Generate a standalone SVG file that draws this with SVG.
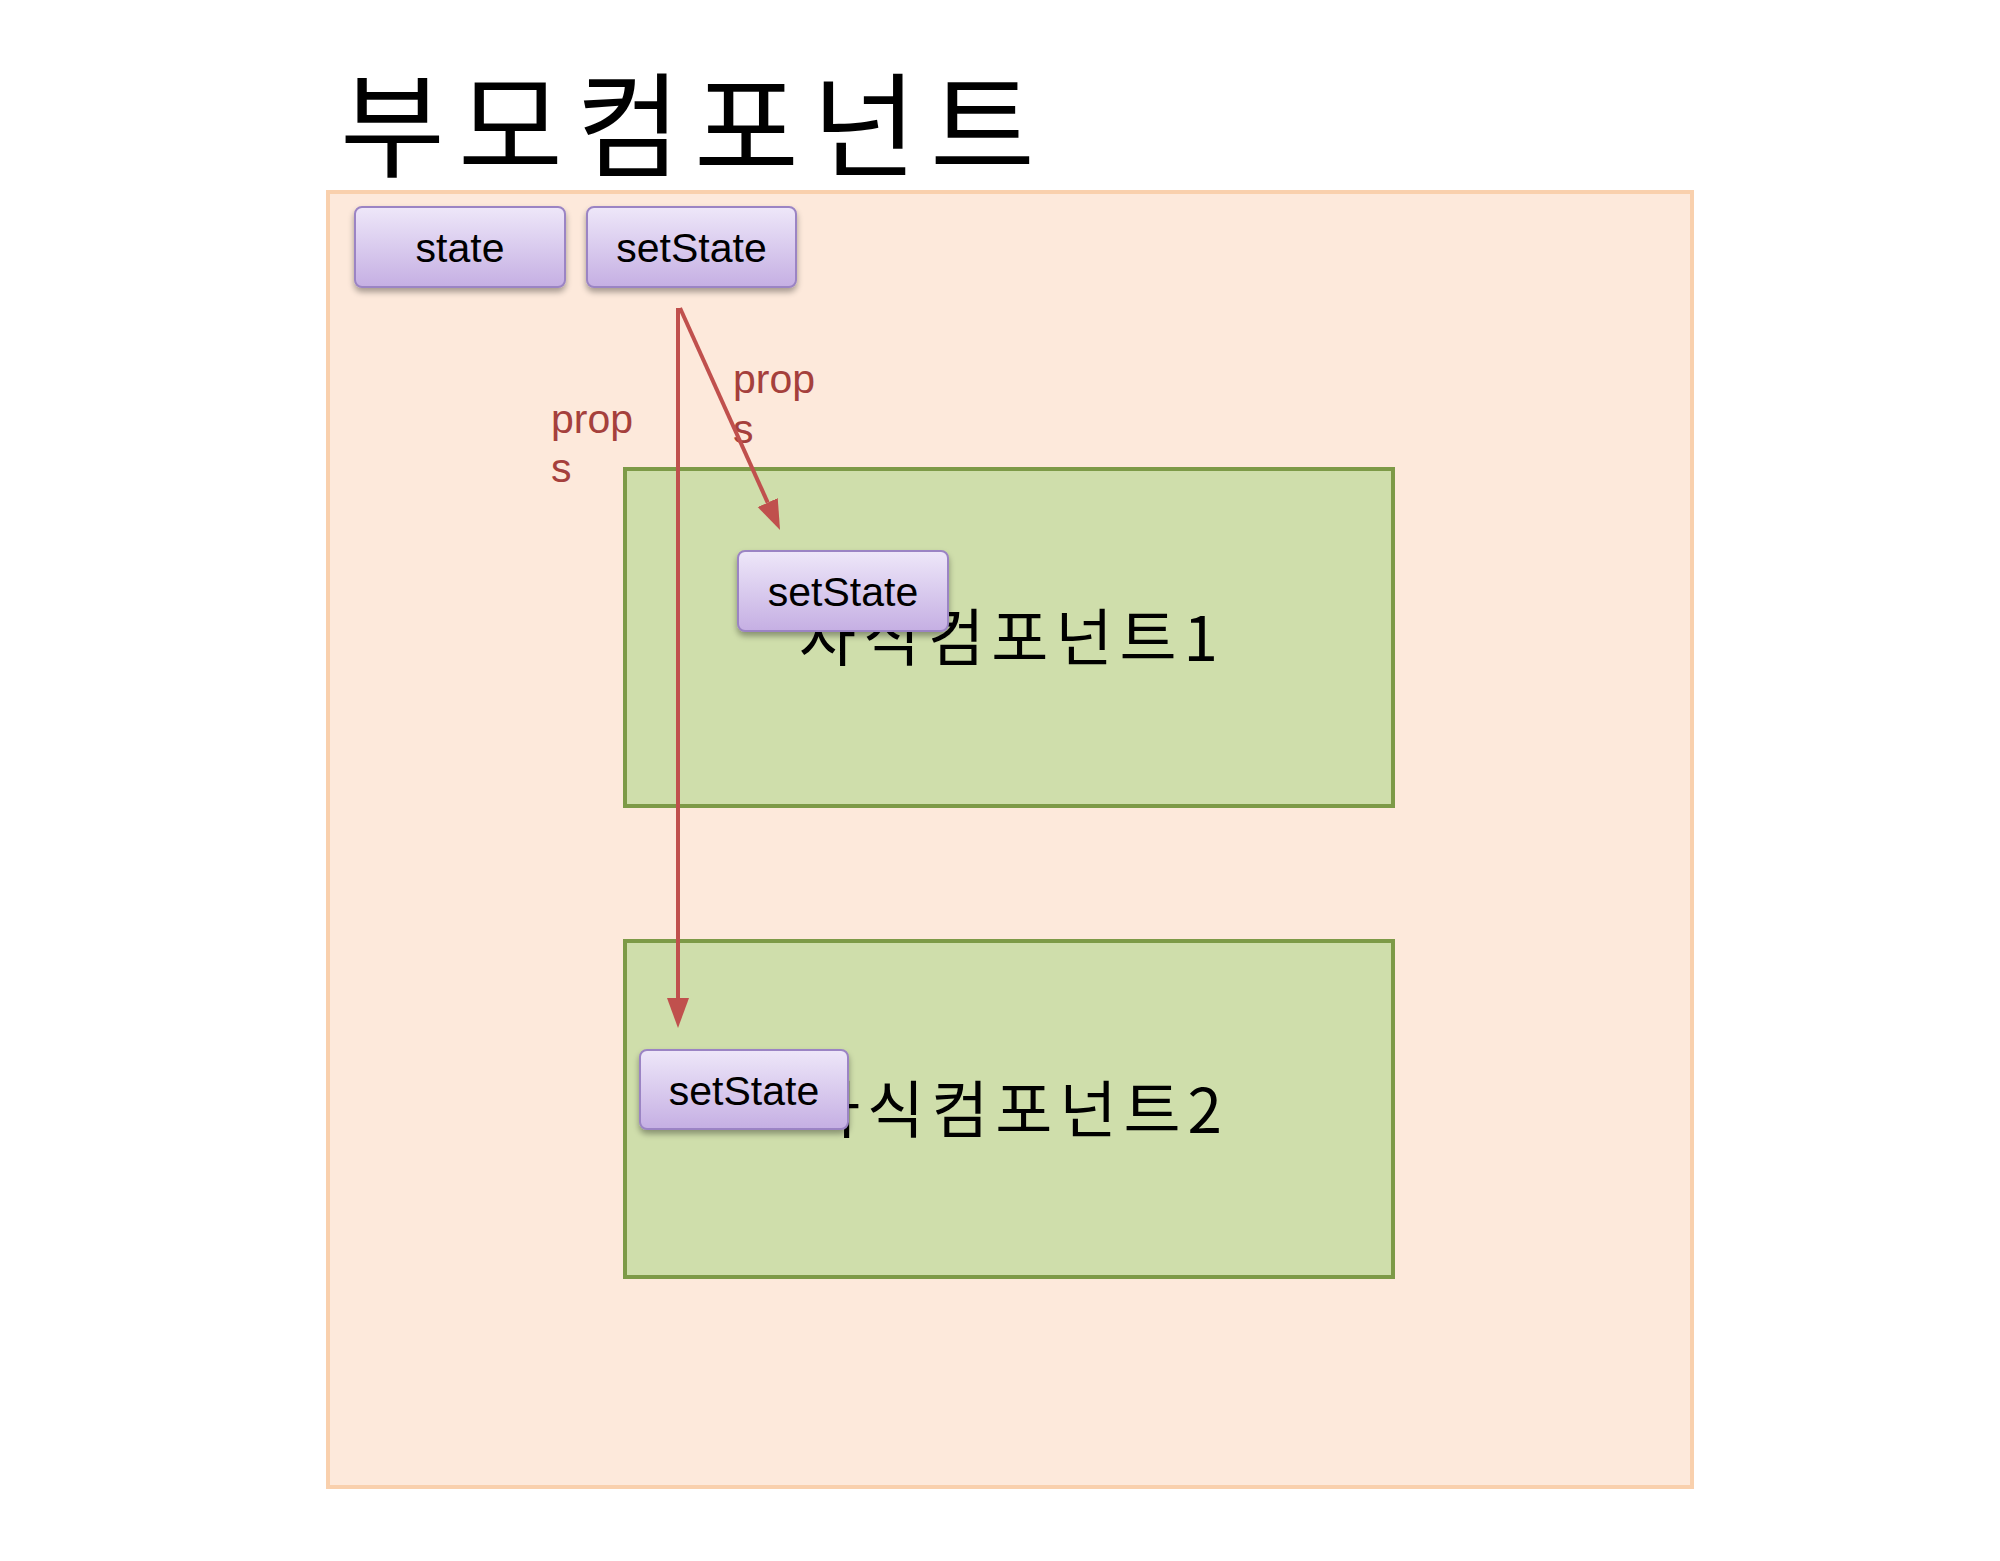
<svg xmlns="http://www.w3.org/2000/svg" width="2000" height="1561" viewBox="0 0 2000 1561">
  <style>
    .btn rect { fill: url(#btnGrad); stroke: #9b84c4; stroke-width: 2; filter: url(#shadow); }
    .btn text { font-family: "Liberation Sans", Arial, sans-serif; font-size: 41px; fill: #000; text-anchor: middle; }
    .child { fill: #cfdeab; stroke: #7d9a47; stroke-width: 4; }
    .child-label { font-family: "Noto Sans CJK KR", "Liberation Sans", sans-serif; font-size: 62px; fill: #000; }
    .lbl { font-family: "Liberation Sans", Arial, sans-serif; font-size: 41px; fill: #a5403c; }
    .conn { stroke: #c0504d; stroke-width: 4; fill: none; }
  </style>
  <defs>
    <linearGradient id="btnGrad" x1="0" y1="0" x2="0" y2="1">
      <stop offset="0" stop-color="#eee7f9"/>
      <stop offset="1" stop-color="#c5afe3"/>
    </linearGradient>
    <filter id="shadow" x="-10%" y="-10%" width="120%" height="140%">
      <feGaussianBlur in="SourceAlpha" stdDeviation="3"/>
      <feOffset dx="0" dy="4" result="b"/>
      <feComponentTransfer><feFuncA type="linear" slope="0.35"/></feComponentTransfer>
      <feMerge><feMergeNode/><feMergeNode in="SourceGraphic"/></feMerge>
    </filter>
    <marker id="arrow" markerUnits="userSpaceOnUse" markerWidth="32" markerHeight="24" refX="0" refY="12" orient="auto">
      <path d="M0,1 L30,12 L0,23 z" fill="#c0504d"/>
    </marker>
  </defs>

  <rect x="0" y="0" width="2000" height="1561" fill="#ffffff"/>

  <g id="parent">
    <rect x="328" y="192" width="1364" height="1295" fill="#fde9db" stroke="#f9d0ad" stroke-width="4"/>
    <text x="340" y="168" font-family="'Noto Sans CJK KR', 'Liberation Sans', sans-serif" font-size="114" textLength="695" lengthAdjust="spacing" fill="#000">부모컴포넌트</text>
  </g>

  <g id="child1">
    <rect class="child" x="625" y="469" width="768" height="337"/>
    <text class="child-label" x="799" y="661" textLength="419" lengthAdjust="spacing">자식컴포넌트1</text>
  </g>

  <g id="child2">
    <rect class="child" x="625" y="941" width="768" height="336"/>
    <text class="child-label" x="803" y="1133" textLength="419" lengthAdjust="spacing">자식컴포넌트2</text>
  </g>

  <g id="labels">
    <text class="lbl" x="551" y="433">prop</text>
    <text class="lbl" x="551" y="482">s</text>
    <text class="lbl" x="733" y="393">prop</text>
    <text class="lbl" x="733" y="443">s</text>
  </g>

  <g id="connectors">
    <line class="conn" x1="678" y1="308" x2="678" y2="998" marker-end="url(#arrow)"/>
    <line class="conn" x1="680" y1="308" x2="767.7" y2="502.6" marker-end="url(#arrow)"/>
  </g>

  <g id="state" class="btn">
    <rect x="355" y="207" width="210" height="80" rx="7"/>
    <text x="460" y="262">state</text>
  </g>
  <g id="setState-parent" class="btn">
    <rect x="587" y="207" width="209" height="80" rx="7"/>
    <text x="691.5" y="262">setState</text>
  </g>
  <g id="setState-child1" class="btn">
    <rect x="738" y="551" width="210" height="80" rx="7"/>
    <text x="843" y="606">setState</text>
  </g>
  <g id="setState-child2" class="btn">
    <rect x="640" y="1050" width="208" height="79" rx="7"/>
    <text x="744" y="1105">setState</text>
  </g>
</svg>
